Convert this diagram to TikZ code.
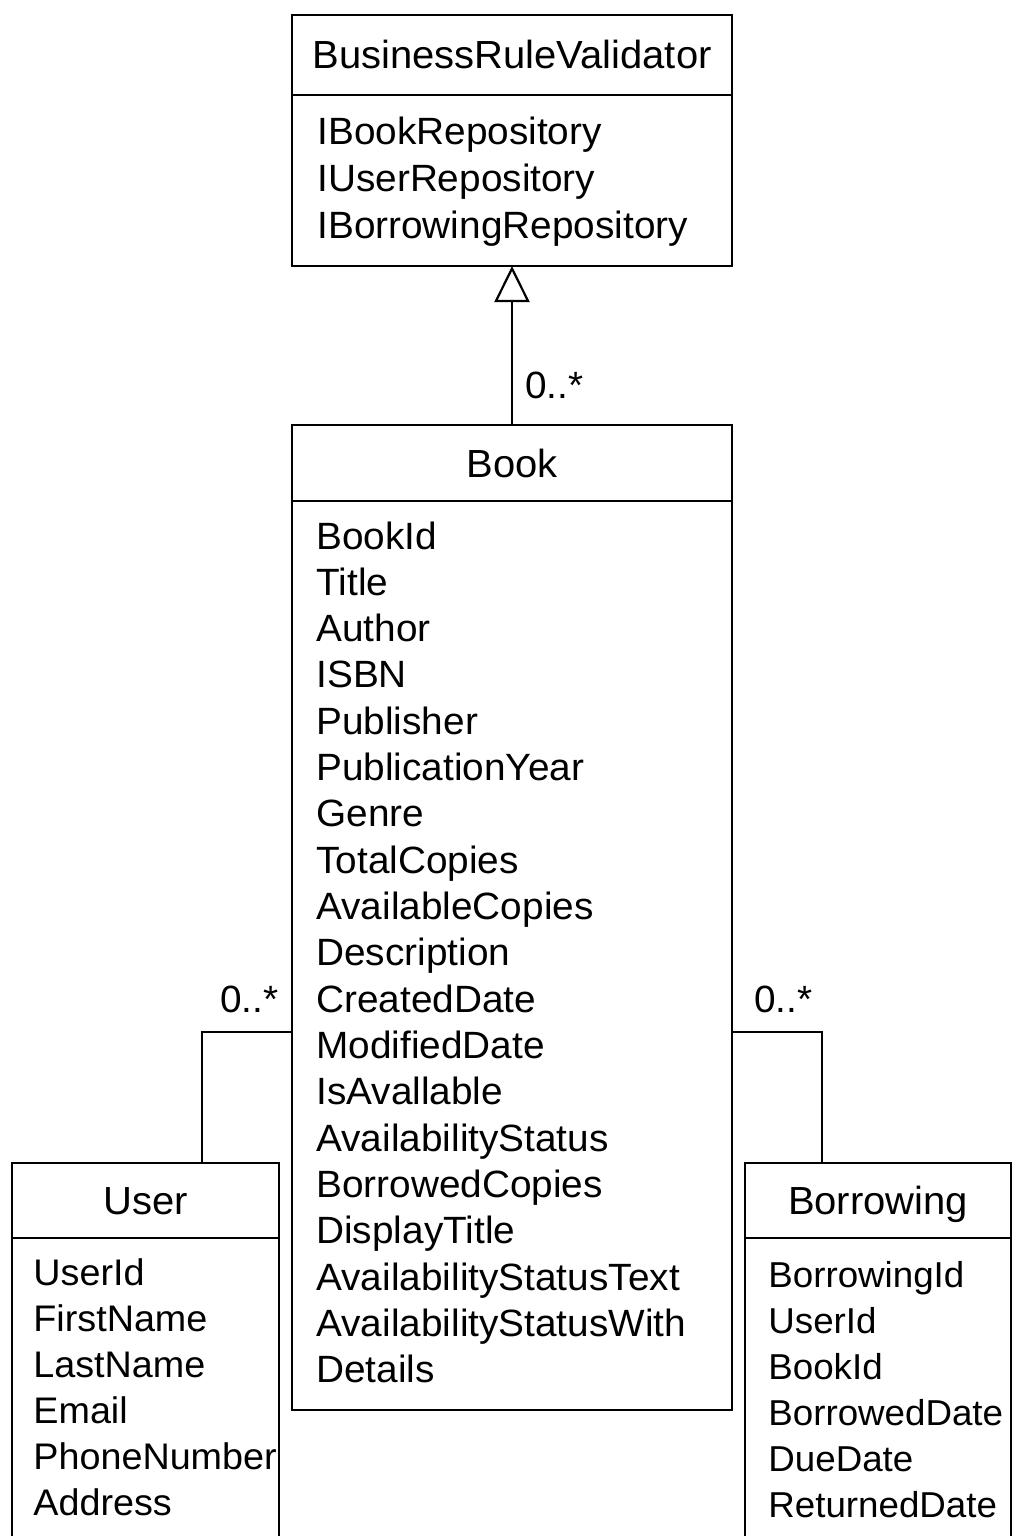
\documentclass[tikz,border=0pt]{standalone}
\usepackage{fontspec}
\setmainfont{Liberation Sans}[FakeStretch=1.02]
\usetikzlibrary{arrows.meta}

\tikzset{
	classbox/.style={draw, line width=1.2pt, anchor=north west, inner sep=0pt, outer sep=0pt,
		font=\fontsize{19.6}{23}\selectfont, text height=14pt, text depth=0pt},
	attr/.style={anchor=base west, inner sep=0pt, font=\fontsize{#1}{23}\selectfont},
	attr/.default=19,
	mult/.style={inner sep=0pt, font=\fontsize{19}{23}\selectfont},
	assoc/.style={line width=1.1pt},
	inherit/.style={line width=1.1pt, -{Triangle[open, length=18pt, width=17.5pt]}}
}

\begin{document}
\begin{tikzpicture}[x=0.5pt, y=-0.5pt]
	\useasboundingbox (0,0) rectangle (1024,1536);
	% BusinessRuleValidator
	\node[classbox, minimum width=220pt, minimum height=40pt] (brvhead) at (292,15) {BusinessRuleValidator};
	\node[classbox, minimum width=220pt, minimum height=85.5pt] (brvbody) at (brvhead.south west) {};
	\foreach \a [count=\i] in {IBookRepository,IUserRepository,IBorrowingRepository}
	{
		\node[attr] (brv\i) at (317,{145+46.5*(\i-1)}) {\a};
	}
	% Book
	\node[classbox, minimum width=220pt, minimum height=38pt] (bookhead) at (292,425) {Book};
	\node[classbox, minimum width=220pt, minimum height=454.5pt] (bookbody) at (bookhead.south west) {};
	\foreach \a [count=\i] in {BookId,Title,Author,ISBN,Publisher,PublicationYear,Genre,
		TotalCopies,AvailableCopies,Description,CreatedDate,ModifiedDate,IsAvallable,
		AvailabilityStatus,BorrowedCopies,DisplayTitle,AvailabilityStatusText,
		AvailabilityStatusWith,Details}
	{
		\node[attr] (book\i) at (316,{549+46.33*(\i-1)}) {\a};
	}
	% User
	\node[classbox, minimum width=133.5pt, minimum height=37.5pt] (userhead) at (12,1163) {User};
	\node[classbox, minimum width=133.5pt, minimum height=181pt] (userbody) at (userhead.south west) {};
	\foreach \a [count=\i] in {UserId,FirstName,LastName,Email,PhoneNumber,Address}
	{
		\node[attr=18.5] (user\i) at (33,{1285+46*(\i-1)}) {\a};
	}
	% Borrowing
	\node[classbox, minimum width=133pt, minimum height=37.5pt] (borrowhead) at (745,1163) {Borrowing};
	\node[classbox, minimum width=133pt, minimum height=181pt] (borrowbody) at (borrowhead.south west) {};
	\foreach \a [count=\i] in {BorrowingId,UserId,BookId,BorrowedDate,DueDate,ReturnedDate}
	{
		\node[attr=18] (borrow\i) at (768,{1287+46*(\i-1)}) {\a};
	}
	% connectors
	\draw[inherit] (bookhead.north) -- (brvbody.south);
	\node[mult, anchor=base west] (mbook) at (525,398) {0..*};
	\draw[assoc] ([xshift=95pt]userhead.north west) |- (bookbody.west |- 0,1032);
	\node[mult, anchor=base east] (muser) at (279,1012) {0..*};
	\draw[assoc] ([xshift=38.5pt]borrowhead.north west) |- (bookbody.east |- 0,1032);
	\node[mult, anchor=base west] (mborrow) at (754,1012) {0..*};
\end{tikzpicture}
\end{document}
